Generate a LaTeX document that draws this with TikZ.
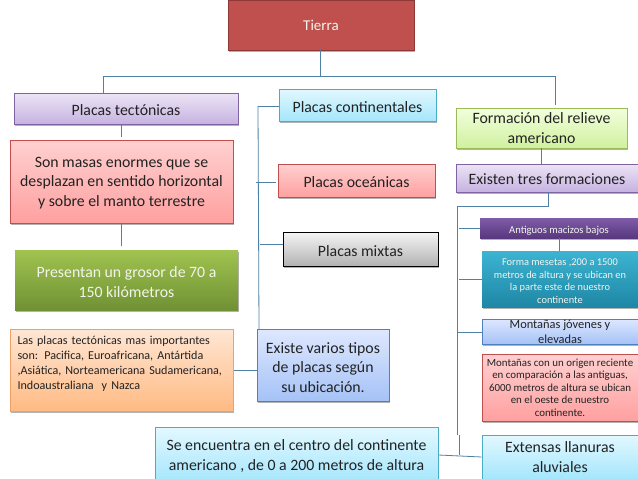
\documentclass[tikz,border=0pt]{standalone}
\usepackage{fontspec}
\setmainfont{Carlito}
\usepackage{xcolor}
\usetikzlibrary{shadows}
\definecolor{linkblue}{HTML}{4F81A5}
\definecolor{inkgray}{HTML}{222222}
\definecolor{softwhite}{HTML}{F2F4EC}
\newcommand{\topgap}{\rule{0pt}{15pt}}
\tikzset{
    block/.style={rectangle, draw, align=center, inner sep=0pt, text=inkgray, line width=0.7pt,
        drop shadow={shadow xshift=0.6pt, shadow yshift=-1.6pt, opacity=0.3, fill=black}},
    redbox/.style={block, draw={rgb,255:red,192;green,80;blue,77}, top color={rgb,255:red,255;green,208;blue,208}, bottom color={rgb,255:red,255;green,160;blue,160}},
    purplebox/.style={block, draw={rgb,255:red,128;green,100;blue,162}, top color={rgb,255:red,236;green,228;blue,246}, bottom color={rgb,255:red,198;green,178;blue,224}},
    cyanbox/.style={block, draw={rgb,255:red,75;green,172;blue,198}, top color={rgb,255:red,226;green,248;blue,255}, bottom color={rgb,255:red,165;green,230;blue,252}},
    bluebox/.style={block, draw={rgb,255:red,79;green,129;blue,189}, top color={rgb,255:red,222;green,232;blue,255}, bottom color={rgb,255:red,165;green,194;blue,246}},
    limebox/.style={block, draw={rgb,255:red,155;green,187;blue,89}, top color={rgb,255:red,242;green,255;blue,220}, bottom color={rgb,255:red,208;green,240;blue,160}},
    orangebox/.style={block, draw={rgb,255:red,240;green,160;blue,100}, top color={rgb,255:red,255;green,230;blue,212}, bottom color={rgb,255:red,255;green,186;blue,130}},
    link/.style={draw=linkblue, line width=0.8pt},
    big/.style={font=\fontsize{15.8}{19.5}\selectfont, text depth=0pt},
    oneline/.style={big, text height=14.5pt},
    mid/.style={font=\fontsize{12.4}{15}\selectfont},
    small/.style={font=\fontsize{10.9}{12.6}\selectfont}
}
\begin{document}
\begin{tikzpicture}[x=1pt, y=-1pt]
    \useasboundingbox (0,0) rectangle (638,479);
    \fill[white] (0,0) rectangle (638,479);

    % middle of the page
    \node (tierra) [block, draw={rgb,255:red,140;green,56;blue,54}, fill={rgb,255:red,192;green,80;blue,77}, text=softwhite, minimum width=186pt, minimum height=50pt, font=\fontsize{15}{18}\selectfont] at (321,25) {Tierra};
    \node (continentales) [cyanbox, oneline, minimum width=157pt, minimum height=32pt] at (357.5,105) {Placas continentales};
    \node (oceanicas) [redbox, oneline, minimum width=157pt, minimum height=33pt] at (356.5,180.5) {Placas oceánicas};
    \node (mixtas) [block, draw=black, top color=gray!8, bottom color=gray!60, oneline, minimum width=155pt, minimum height=34pt] at (360.5,249) {Placas mixtas};
    \node (tipos) [bluebox, big, minimum width=132pt, minimum height=72pt] at (323,365) {\topgap Existe varios tipos\\de placas según\\su ubicación.};
    \node (centro) [cyanbox, big, minimum width=283pt, minimum height=56pt] at (296.5,455) {Se encuentra en el centro del continente\\americano , de 0 a 200 metros de altura};

    % left column
    \node (tectonicas) [purplebox, oneline, minimum width=224pt, minimum height=31pt] at (126,108.5) {Placas tectónicas};
    \node (masas) [redbox, big, minimum width=223pt, minimum height=83pt] at (121.5,181.5) {Son masas enormes que se\\desplazan en sentido horizontal\\y sobre el manto terrestre};
    \node (grosor) [block, draw=none, top color={rgb,255:red,160;green,195;blue,80}, bottom color={rgb,255:red,112;green,145;blue,52}, text=softwhite, big, minimum width=223pt, minimum height=60pt] at (126.5,280) {\topgap Presentan un grosor de 70 a\\150 kilómetros};
    \node (importantes) [orangebox, align=left, text width=209pt, minimum height=82pt, font=\fontsize{12.1}{15}\selectfont, inner xsep=7pt] at (122,370.5) {Las placas tectónicas mas importantes\\son: Pacifica, Euroafricana, Antártida\\,Asiática, Norteamericana Sudamericana,\\Indoaustraliana\ \ y Nazca\\\mbox{}};

    % right column
    \node (relieve) [limebox, big, minimum width=171pt, minimum height=40pt] at (541.5,128) {Formación del relieve\\americano};
    \node (formaciones) [purplebox, oneline, text height=13pt, minimum width=182pt, minimum height=28pt] at (547,178) {Existen tres formaciones};
    \node (macizos) [block, draw=none, top color={rgb,255:red,128;green,92;blue,168}, bottom color={rgb,255:red,88;green,56;blue,126}, text=softwhite, font=\fontsize{10.6}{12}\selectfont, text depth=0pt, text height=11pt, minimum width=158pt, minimum height=20pt] at (559,228) {Antiguos macizos bajos};
    \node (mesetas) [block, draw=none, top color={rgb,255:red,60;green,180;blue,210}, bottom color={rgb,255:red,30;green,135;blue,165}, text=softwhite, font=\fontsize{10.4}{12.6}\selectfont, text depth=0pt, minimum width=156pt, minimum height=56pt] at (560,279) {\rule{0pt}{11pt}Forma mesetas ,200 a 1500\\metros de altura y se ubican en\\la parte este de nuestro\\continente};
    \node (jovenes) [bluebox, mid, minimum width=156pt, minimum height=25pt] at (560,331.5) {Montañas jóvenes y\\elevadas};
    \node (reciente) [redbox, small, minimum width=156pt, minimum height=67pt] at (560,387.5) {Montañas con un origen reciente\\en comparación a las antiguas,\\6000 metros de altura se ubican\\en el oeste de nuestro\\continente.};
    \node (llanuras) [cyanbox, big, minimum width=156pt, minimum height=44pt] at (560,457) {Extensas llanuras\\aluviales};

    % junctions of the lines
    \coordinate (busmid) at (320,76);
    \coordinate (busleft) at (103,76);
    \coordinate (busright) at (555.5,76);
    \coordinate (relievetop) at (555.5,105);
    \coordinate (tectop) at (103,93);
    \coordinate (trunktop) at (258,106);
    \coordinate (trunkocean) at (256,182);
    \coordinate (trunkmix) at (260,244);
    \coordinate (trunkend) at (259,329);
    \coordinate (rightelbow) at (548,206);
    \coordinate (rightcorner) at (457.5,206);
    \coordinate (rightend) at (457.5,435);
    \coordinate (stubtop) at (459.5,435);
    \coordinate (stubend) at (459.5,455);
    \coordinate (tickmacizos) at (459,228);
    \coordinate (tickmesetas) at (459,279);
    \coordinate (tickjovenes) at (458,332);

    \draw[link] (tierra.south -| busmid) -- (busmid);
    \draw[link] (busleft) -- (busright);
    \draw[link] (busleft) -- (tectop);
    \draw[link] (busright) -- (relievetop);
    \draw[link, shorten >=3pt] (tectonicas.south -| masas.north) -- (masas.north);
    \draw[link, shorten >=4pt] (masas.south) -- (grosor.north -| masas.south);
    \draw[link] (trunktop) -- (trunkend);
    \draw[link] (trunktop) -- (continentales.west |- trunktop);
    \draw[link, shorten >=2pt] (trunkocean) -- (oceanicas.west |- trunkocean);
    \draw[link] (trunkmix) -- (mixtas.west |- trunkmix);
    \draw[link] (importantes.east) -- (tipos.west |- importantes.east);
    \draw[link] (relieve.south) -- (formaciones.north -| relieve.south);
    \draw[link] (formaciones.south -| rightelbow) -- (rightelbow) -- (rightcorner) -- (rightend);
    \draw[link] (stubtop) -- (stubend);
    \draw[link] (tickmacizos) -- (macizos.west |- tickmacizos);
    \draw[link] (tickmesetas) -- (mesetas.west |- tickmesetas);
    \draw[link] (tickjovenes) -- (jovenes.west |- tickjovenes);
    \draw[link] (macizos.south) -- (mesetas.north -| macizos.south);
    \draw[link] (centro.east) -- (llanuras.west);
\end{tikzpicture}
\end{document}
